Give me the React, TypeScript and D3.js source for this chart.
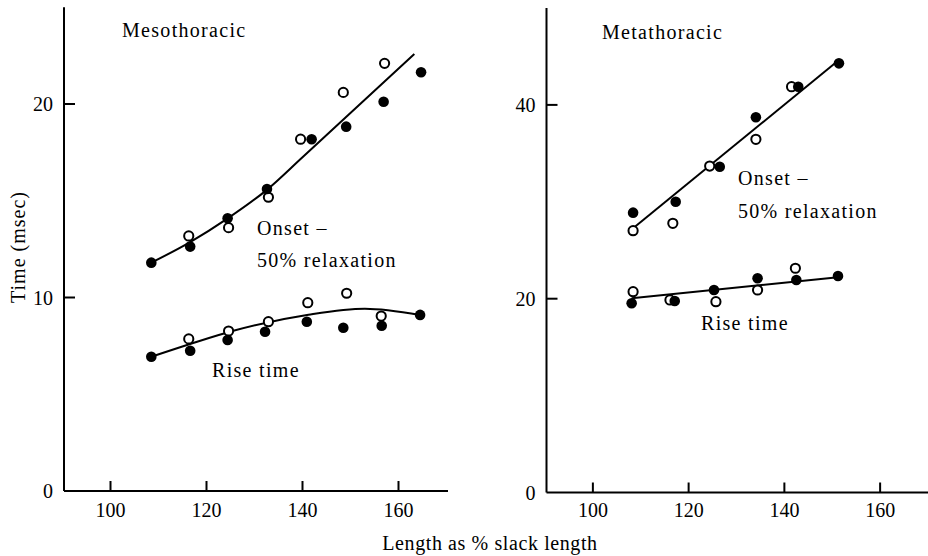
import React from "react";
import * as d3 from "d3";

// ---- data ----
const xTicks = [100, 120, 140, 160];
const mesoYTicks = [0, 10, 20];
const metaYTicks = [0, 20, 40];

// Mesothoracic — onset to 50% relaxation
const mesoOnsetFilled: [number, number][] = [
  [108.5, 11.8], [116.6, 12.63], [124.4, 14.09], [132.6, 15.61],
  [141.9, 18.18], [149.1, 18.83], [156.9, 20.12], [164.7, 21.64],
];
const mesoOnsetOpen: [number, number][] = [
  [116.3, 13.18], [124.6, 13.61], [132.9, 15.18], [139.6, 18.18],
  [148.5, 20.6], [157.1, 22.1],
];
const mesoOnsetFit: [number, number][] = [
  [108.5, 11.8], [116.5, 12.85], [124.5, 14.1], [132.5, 15.55],
  [140, 17.25], [163.3, 22.58],
];
// Mesothoracic — rise time
const mesoRiseFilled: [number, number][] = [
  [108.5, 6.94], [116.6, 7.25], [124.4, 7.8], [132.2, 8.23],
  [140.9, 8.75], [148.5, 8.44], [156.5, 8.54], [164.5, 9.1],
];
const mesoRiseOpen: [number, number][] = [
  [116.3, 7.86], [124.6, 8.27], [132.9, 8.75], [141.1, 9.73],
  [149.2, 10.22], [156.4, 9.04],
];
const mesoRiseFit: [number, number][] = [
  [108.5, 6.94], [116.6, 7.6], [125.4, 8.27], [141.25, 9.11],
  [153, 9.42], [164.5, 9.1],
];

// Metathoracic — onset to 50% relaxation
const metaOnsetFilled: [number, number][] = [
  [108.4, 28.88], [117.3, 30.01], [126.5, 33.62], [134.05, 38.72],
  [142.9, 41.88], [151.4, 44.29],
];
const metaOnsetOpen: [number, number][] = [
  [108.4, 27.02], [116.7, 27.78], [124.4, 33.69], [134.05, 36.45],
  [141.5, 41.88],
];
const metaOnsetFit: [number, number][] = [[108.4, 27.27], [151.4, 44.63]];
// Metathoracic — rise time
const metaRiseFilled: [number, number][] = [
  [108.1, 19.53], [117.1, 19.76], [125.3, 20.9], [134.4, 22.11],
  [142.5, 21.93], [151.2, 22.34],
];
const metaRiseOpen: [number, number][] = [
  [108.4, 20.72], [116.1, 19.87], [125.7, 19.69], [134.4, 20.9],
  [142.3, 23.14],
];
const metaRiseFit: [number, number][] = [[108.1, 20.04], [151.2, 22.21]];

const FONT = "'Liberation Serif', 'Times New Roman', 'DejaVu Serif', serif";

type Label = { text: string; x: number; y: number };

type PanelProps = {
  xRange: [number, number];
  yDomain: [number, number];
  yRange: [number, number];
  yTicks: number[];
  title: Label;
  labels: Label[];
  filled: [number, number][][];
  open: [number, number][][];
  fits: [number, number][][];
  axisRight: number;
};

function Panel(p: PanelProps) {
  const x = d3.scaleLinear().domain([90, 170]).range(p.xRange);
  const y = d3.scaleLinear().domain(p.yDomain).range(p.yRange);
  const line = d3
    .line<[number, number]>()
    .x((d) => x(d[0]))
    .y((d) => y(d[1]))
    .curve(d3.curveMonotoneX);
  const x0 = x(90) + 1.5;
  const y0 = y(0);
  const yTop = y(p.yDomain[1]);
  return (
    <g>
      {/* axes */}
      <line x1={x0} x2={x0} y1={yTop} y2={y0} stroke="#000" strokeWidth={2} />
      <line x1={x0} x2={p.axisRight} y1={y0} y2={y0} stroke="#000" strokeWidth={2} />
      {p.yTicks.map((t) => (
        <g key={"yt" + t}>
          {t !== 0 && (
            <line x1={x0} x2={x0 + 11} y1={y(t)} y2={y(t)} stroke="#000" strokeWidth={2} />
          )}
          <text
            x={x0 - 11}
            y={y(t)}
            dy="0.35em"
            textAnchor="end"
            fontFamily={FONT}
            fontSize={20}
          >
            {t}
          </text>
        </g>
      ))}
      {xTicks.map((t) => (
        <g key={"xt" + t}>
          <line x1={x(t)} x2={x(t)} y1={y0} y2={y0 - 10} stroke="#000" strokeWidth={2} />
          <text x={x(t)} y={517} textAnchor="middle" fontFamily={FONT} fontSize={20}>
            {t}
          </text>
        </g>
      ))}
      {/* fits */}
      {p.fits.map((f, i) => (
        <path key={"f" + i} d={line(f) || ""} fill="none" stroke="#000" strokeWidth={2} />
      ))}
      {/* open points */}
      {p.open.map((s, i) =>
        s.map((d, j) => (
          <circle
            key={"o" + i + "-" + j}
            cx={x(d[0])}
            cy={y(d[1])}
            r={4.6}
            fill="#fff"
            stroke="#000"
            strokeWidth={2}
          />
        ))
      )}
      {/* filled points */}
      {p.filled.map((s, i) =>
        s.map((d, j) => (
          <circle key={"c" + i + "-" + j} cx={x(d[0])} cy={y(d[1])} r={5.3} fill="#000" />
        ))
      )}
      {/* labels */}
      {[p.title, ...p.labels].map((l, i) => (
        <text
          key={"l" + i}
          x={l.x}
          y={l.y}
          fontFamily={FONT}
          fontSize={20}
          letterSpacing={1.3}
        >
          {l.text}
        </text>
      ))}
    </g>
  );
}

export default function App() {
  return (
    <svg
      width={928}
      height={556}
      style={{ position: "absolute", left: 0, top: 0, background: "#fff" }}
    >
      <rect width={928} height={556} fill="#fff" />
      <Panel
        xRange={[62.5, 446.5]}
        yDomain={[0, 25]}
        yRange={[491, 7.25]}
        yTicks={mesoYTicks}
        axisRight={448}
        title={{ text: "Mesothoracic", x: 122, y: 37 }}
        labels={[
          { text: "Onset –", x: 257, y: 235 },
          { text: "50% relaxation", x: 257, y: 267 },
          { text: "Rise time", x: 212, y: 377 },
        ]}
        filled={[mesoOnsetFilled, mesoRiseFilled]}
        open={[mesoOnsetOpen, mesoRiseOpen]}
        fits={[mesoOnsetFit, mesoRiseFit]}
      />
      <Panel
        xRange={[545, 928]}
        yDomain={[0, 50]}
        yRange={[492.5, 8]}
        yTicks={metaYTicks}
        axisRight={928}
        title={{ text: "Metathoracic", x: 602, y: 39 }}
        labels={[
          { text: "Onset –", x: 738, y: 185 },
          { text: "50% relaxation", x: 738, y: 218 },
          { text: "Rise time", x: 701, y: 330 },
        ]}
        filled={[metaOnsetFilled, metaRiseFilled]}
        open={[metaOnsetOpen, metaRiseOpen]}
        fits={[metaOnsetFit, metaRiseFit]}
      />
      <text
        x={18}
        y={247}
        transform="rotate(-90 18 247)"
        textAnchor="middle"
        dy="0.35em"
        fontFamily={FONT}
        fontSize={20}
        letterSpacing={1}
      >
        Time (msec)
      </text>
      <text
        x={490}
        y={550}
        textAnchor="middle"
        fontFamily={FONT}
        fontSize={20}
        letterSpacing={0.6}
      >
        Length as % slack length
      </text>
    </svg>
  );
}
